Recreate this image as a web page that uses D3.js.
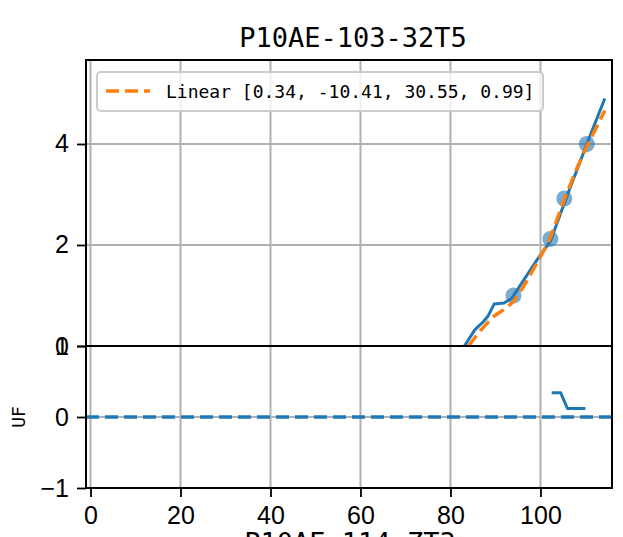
<!DOCTYPE html>
<html>
<head>
<meta charset="utf-8">
<script src="https://cdn.jsdelivr.net/npm/d3@7"></script>
<style>
  html, body { margin: 0; padding: 0; background: #fff; overflow: hidden; }
  svg { display: block; }
</style>
</head>
<body>
<svg id="chart" width="623" height="537"></svg>
<script>
// ---- data ----
const chartTitle = "P10AE-103-32T5";
const xAxisLabel = "P10AE-114-ZT3";
const bottomYLabel = "UF";
const legendLabel = "Linear [0.34, -10.41, 30.55, 0.99]";

const xTicks = [0, 20, 40, 60, 80, 100];
const topYTicks = [0, 2, 4];
const bottomYTicks = [-1, 0, 1];

// measured points
const pointX = [94, 102.2, 105.3, 110.3];
const pointY = [1.0, 2.12, 2.92, 4.0];

// blue curve
const curveX = [83.1, 85.4, 87.3, 88.4, 89.7, 91.9, 93.6, 95.8, 99.2, 102.2, 104.2, 106.1, 108.4, 110.3, 114.3];
const curveY = [0, 0.32, 0.48, 0.6, 0.83, 0.85, 0.94, 1.24, 1.70, 2.07, 2.56, 3.02, 3.55, 4.0, 4.9];

// orange fitted curve
const fitX = [84, 86.6, 89.5, 92.5, 94, 96.2, 99.2, 102, 105.3, 108, 110.3, 114.3];
const fitY = [0, 0.3, 0.58, 0.76, 0.88, 1.17, 1.64, 2.1, 2.9, 3.5, 3.95, 4.66];

// bottom panel UF step
const ufX = [102.5, 104.5, 106, 110];
const ufY = [0.34, 0.34, 0.12, 0.12];
const ufRef = 0;

// ---- layout ----
const svg = d3.select("#chart");
const L = 86, R = 612, T = 60, MID = 346, B = 488;
const blue = "#1f77b4", orange = "#ff7f0e", gridC = "#b0b0b0";
const tickFont = "'Liberation Sans', Arial, sans-serif";
const monoFont = "'DejaVu Sans Mono', monospace";

const x = d3.scaleLinear().domain([-1, 115.9]).range([L, R]);
const yTop = d3.scaleLinear().domain([0, 5.663]).range([MID, T]);
const yBot = d3.scaleLinear().domain([-1, 1]).range([B, MID]);

svg.append("defs").call(d => {
  d.append("clipPath").attr("id", "clipTop").append("rect")
    .attr("x", L).attr("y", T).attr("width", R - L).attr("height", MID - T);
  d.append("clipPath").attr("id", "clipBot").append("rect")
    .attr("x", L).attr("y", MID).attr("width", R - L).attr("height", B - MID);
});

// grids
function grid(yScale, yTicks, y0, y1, clip) {
  const g = svg.append("g").attr("clip-path", `url(#${clip})`);
  g.selectAll("line.vx").data(xTicks).join("line")
    .attr("x1", d => x(d)).attr("x2", d => x(d))
    .attr("y1", y0).attr("y2", y1)
    .attr("stroke", gridC).attr("stroke-width", 2);
  g.selectAll("line.hy").data(yTicks).join("line")
    .attr("x1", L).attr("x2", R)
    .attr("y1", d => yScale(d)).attr("y2", d => yScale(d))
    .attr("stroke", gridC).attr("stroke-width", 2);
}
grid(yTop, topYTicks, T, MID, "clipTop");
grid(yBot, bottomYTicks, MID, B, "clipBot");

// top panel marks
const gTop = svg.append("g").attr("clip-path", "url(#clipTop)");
gTop.selectAll("circle").data(pointX.map((d, i) => [d, pointY[i]])).join("circle")
  .attr("cx", d => x(d[0])).attr("cy", d => yTop(d[1])).attr("r", 8)
  .attr("fill", blue).attr("fill-opacity", 0.6);

const lineTop = d3.line().x(d => x(d[0])).y(d => yTop(d[1]));
gTop.append("path").datum(curveX.map((d, i) => [d, curveY[i]]))
  .attr("d", lineTop).attr("fill", "none").attr("stroke", blue)
  .attr("stroke-width", 3).attr("stroke-linejoin", "round");
gTop.append("path").datum(fitX.map((d, i) => [d, fitY[i]]))
  .attr("d", lineTop).attr("fill", "none").attr("stroke", orange)
  .attr("stroke-width", 3.5).attr("stroke-dasharray", "13,6");

// bottom panel marks
const gBot = svg.append("g").attr("clip-path", "url(#clipBot)");
gBot.append("line")
  .attr("x1", L).attr("x2", R).attr("y1", yBot(ufRef)).attr("y2", yBot(ufRef))
  .attr("stroke", blue).attr("stroke-width", 3.5).attr("stroke-dasharray", "13,6");
const lineBot = d3.line().x(d => x(d[0])).y(d => yBot(d[1]));
gBot.append("path").datum(ufX.map((d, i) => [d, ufY[i]]))
  .attr("d", lineBot).attr("fill", "none").attr("stroke", blue)
  .attr("stroke-width", 3).attr("stroke-linejoin", "round");

// axes
function styleAxis(g) {
  g.select(".domain").remove();
  g.selectAll(".tick line").attr("stroke", "#000").attr("stroke-width", 1.8);
  g.selectAll(".tick text").attr("font-family", tickFont).attr("font-size", 25).attr("fill", "#000");
}
svg.append("g").attr("transform", `translate(${L},0)`)
  .call(d3.axisLeft(yTop).tickValues(topYTicks).tickFormat(d3.format("d")).tickSize(9).tickPadding(8))
  .call(styleAxis);
svg.append("g").attr("transform", `translate(${L},0)`)
  .call(d3.axisLeft(yBot).tickValues(bottomYTicks).tickFormat(d => d < 0 ? "\u2212" + Math.abs(d) : d).tickSize(9).tickPadding(8))
  .call(styleAxis);
svg.append("g").attr("transform", `translate(0,${B})`)
  .call(d3.axisBottom(x).tickValues(xTicks).tickFormat(d3.format("d")).tickSize(9).tickPadding(9))
  .call(styleAxis);

// spines
svg.append("rect").attr("x", L).attr("y", T).attr("width", R - L).attr("height", MID - T)
  .attr("fill", "none").attr("stroke", "#000").attr("stroke-width", 2);
svg.append("rect").attr("x", L).attr("y", MID).attr("width", R - L).attr("height", B - MID)
  .attr("fill", "none").attr("stroke", "#000").attr("stroke-width", 2);

// legend
const lg = svg.append("g");
lg.append("rect").attr("x", 97).attr("y", 72).attr("width", 446).attr("height", 39).attr("rx", 4)
  .attr("fill", "#fff").attr("fill-opacity", 0.8).attr("stroke", "#cccccc").attr("stroke-width", 2);
lg.append("line").attr("x1", 106).attr("x2", 150).attr("y1", 91).attr("y2", 91)
  .attr("stroke", orange).attr("stroke-width", 3.5).attr("stroke-dasharray", "13,6");
lg.append("text").attr("x", 166).attr("y", 98).text(legendLabel)
  .attr("font-family", monoFont).attr("font-size", 18).attr("fill", "#000");

// title and labels
svg.append("text").attr("x", 353).attr("y", 47).attr("text-anchor", "middle")
  .attr("font-family", monoFont).attr("font-size", 27).attr("fill", "#000").text(chartTitle);
svg.append("text").attr("transform", `translate(25,417) rotate(-90)`).attr("text-anchor", "middle")
  .attr("font-family", "'DejaVu Sans Mono', monospace").attr("font-size", 18).attr("fill", "#000").text(bottomYLabel);
svg.append("text").attr("x", 350).attr("y", 552).attr("text-anchor", "middle")
  .attr("font-family", monoFont).attr("font-size", 27).attr("fill", "#000").text(xAxisLabel);
</script>
</body>
</html>
